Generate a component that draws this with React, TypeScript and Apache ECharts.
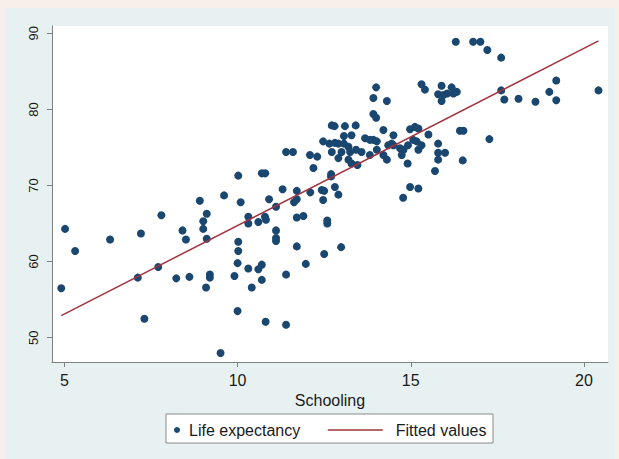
import React, { useEffect, useRef } from "react";
import * as echarts from "echarts";

// Average years of schooling vs. life expectancy, one point per country
const schoolingVsLife: [number, number][] = [
  [4.91, 56.5], [5.02, 64.3], [5.31, 61.4], [6.32, 62.9], [7.12, 57.9], [7.21, 63.7], [7.31, 52.5],
  [7.71, 59.3], [7.8, 66.1], [8.23, 57.8], [8.41, 64.1], [8.51, 62.9], [8.61, 58.0], [8.91, 68.0],
  [9.01, 65.3], [9.01, 64.3], [9.11, 66.3], [9.11, 63.0], [9.09, 56.6], [9.2, 58.3], [9.2, 57.9],
  [9.51, 48.0], [9.61, 68.7], [9.91, 58.1],
  [10.02, 71.3], [10.02, 62.6], [10.02, 61.4], [10.0, 59.8], [10.0, 53.5], [10.09, 67.8], [10.31, 65.9],
  [10.31, 65.0], [10.31, 59.1], [10.41, 56.6], [10.6, 65.2], [10.6, 59.0], [10.7, 59.6], [10.7, 57.6],
  [10.7, 71.6], [10.8, 71.6], [10.79, 65.9], [10.82, 65.5], [10.81, 52.1], [10.91, 68.2],
  [11.11, 67.2], [11.11, 64.1], [11.11, 63.1], [11.11, 62.7], [11.3, 69.5], [11.4, 74.4], [11.6, 74.4],
  [11.4, 58.3], [11.4, 51.7], [11.63, 67.8], [11.71, 69.3], [11.71, 68.2], [11.71, 65.8], [11.71, 62.0],
  [11.9, 66.0], [11.97, 59.7],
  [12.09, 74.0], [12.1, 69.1], [12.19, 72.3], [12.3, 73.8], [12.43, 69.4], [12.5, 69.3], [12.47, 68.1],
  [12.5, 61.0], [12.47, 75.8], [12.59, 65.4], [12.59, 65.0], [12.65, 75.5], [12.7, 71.2], [12.7, 71.5],
  [12.72, 74.4], [12.72, 77.9], [12.8, 77.8], [12.81, 69.8], [12.81, 75.6], [12.91, 75.5], [12.91, 68.8],
  [12.91, 73.6], [12.99, 61.9],
  [13.0, 74.4], [13.07, 76.5], [13.07, 75.5], [13.1, 77.8], [13.2, 75.1], [13.2, 73.4], [13.25, 74.4],
  [13.29, 76.6], [13.29, 72.9], [13.41, 77.9], [13.42, 74.7], [13.46, 72.7], [13.58, 74.4], [13.68, 76.2],
  [13.82, 76.0], [13.82, 74.0], [13.92, 81.5], [13.92, 79.4], [13.92, 76.0],
  [14.0, 78.9], [14.0, 82.9], [14.02, 75.8], [14.02, 74.7], [14.21, 77.3], [14.21, 74.0], [14.31, 73.4],
  [14.31, 81.1], [14.35, 75.3], [14.45, 75.5], [14.5, 76.6], [14.5, 75.3], [14.69, 74.9], [14.79, 74.7],
  [14.74, 74.0], [14.78, 68.4], [14.91, 72.9], [14.92, 75.3], [14.98, 77.4], [14.98, 69.8],
  [15.07, 76.0], [15.12, 77.7], [15.22, 77.5], [15.17, 75.8], [15.22, 74.7], [15.22, 69.6], [15.31, 75.3],
  [15.31, 83.3], [15.41, 82.6], [15.51, 76.7], [15.7, 71.9], [15.79, 75.5], [15.79, 74.3], [15.79, 73.4],
  [15.79, 82.0], [15.89, 83.1], [15.89, 81.1], [15.94, 81.9], [15.99, 74.3],
  [16.05, 82.1], [16.18, 82.9], [16.23, 82.1], [16.33, 82.3], [16.3, 88.9], [16.42, 77.2], [16.52, 77.2],
  [16.5, 73.3], [16.8, 88.9], [17.01, 88.9], [17.21, 87.8], [17.27, 76.1], [17.61, 86.8], [17.61, 82.5],
  [17.7, 81.3], [18.11, 81.4], [18.6, 81.0], [19.0, 82.3], [19.2, 83.8], [19.2, 81.2], [20.42, 82.5],
];

// Endpoints of the linear fit over the observed schooling range
const fittedSchooling = [4.91, 20.42];
const fittedLife = [52.9, 89.0];

const xTicks = [5, 10, 15, 20];
const yTicks = [50, 60, 70, 80, 90];

const NAVY = "#1a476f";
const MAROON = "#a3333f";
const FONT = "'Liberation Sans', Arial, sans-serif";

export default function App() {
  const ref = useRef<HTMLDivElement>(null);

  useEffect(() => {
    if (!ref.current) return;
    const chart = echarts.init(ref.current, null, { renderer: "svg" });

    chart.setOption({
      animation: false,
      backgroundColor: "#f7efea",
      textStyle: { fontFamily: FONT },
      graphic: [
        {
          type: "rect",
          z: -10,
          silent: true,
          shape: { x: 5, y: 8, width: 610, height: 451 },
          style: { fill: "#e8f1f1" },
        },
        {
          type: "rect",
          z: 1,
          silent: true,
          shape: { x: 166, y: 414, width: 327, height: 29 },
          style: { fill: "#ffffff", stroke: "#8a8a8a", lineWidth: 1 },
        },
      ],
      grid: {
        left: 52,
        top: 26,
        width: 556,
        height: 336,
        show: true,
        backgroundColor: "#ffffff",
        borderWidth: 0,
        containLabel: false,
      },
      legend: [
        {
          data: ["Life expectancy"],
          left: 174,
          top: 422,
          padding: 0,
          itemWidth: 6,
          itemHeight: 6,
          icon: "circle",
          selectedMode: false,
          textStyle: { fontSize: 16, color: "#1a1a1a", fontFamily: FONT, padding: [0, 0, 0, 4] },
        },
        {
          data: ["Fitted values"],
          left: 327,
          top: 422,
          padding: 0,
          itemWidth: 55,
          itemHeight: 14,
          selectedMode: false,
          itemStyle: { opacity: 0 },
          lineStyle: { color: MAROON, width: 1.5 },
          textStyle: { fontSize: 16, color: "#1a1a1a", fontFamily: FONT, padding: [0, 0, 0, 8] },
        },
      ],
      xAxis: {
        type: "value",
        min: 4.643,
        max: 20.694,
        name: "Schooling",
        nameLocation: "middle",
        nameGap: 24,
        nameTextStyle: { fontSize: 16, color: "#1a1a1a", fontFamily: FONT },
        axisLine: { show: true, onZero: false, lineStyle: { color: "#808080", width: 1 } },
        axisTick: { show: true, length: 5, customValues: xTicks, lineStyle: { color: "#808080" } },
        axisLabel: { customValues: xTicks, fontSize: 16, color: "#1a1a1a", margin: 10, fontFamily: FONT },
        splitLine: { show: false },
      },
      yAxis: {
        type: "value",
        min: 46.81,
        max: 90.96,
        axisLine: { show: true, onZero: false, lineStyle: { color: "#808080", width: 1 } },
        axisTick: { show: true, length: 5, customValues: yTicks, lineStyle: { color: "#808080" } },
        axisLabel: {
          customValues: yTicks,
          rotate: 90,
          fontSize: 13,
          color: "#1a1a1a",
          margin: 12,
          fontFamily: FONT,
        },
        splitLine: { show: false },
      },
      series: [
        {
          name: "Life expectancy",
          type: "scatter",
          data: schoolingVsLife,
          symbol: "circle",
          symbolSize: 8,
          itemStyle: { color: NAVY, opacity: 1 },
          z: 2,
        },
        {
          name: "Fitted values",
          type: "line",
          data: fittedSchooling.map((x, i) => [x, fittedLife[i]]),
          symbol: "none",
          showSymbol: false,
          lineStyle: { color: MAROON, width: 1.5 },
          itemStyle: { color: MAROON },
          z: 3,
        },
      ],
    });

    return () => chart.dispose();
  }, []);

  return (
    <div
      ref={ref}
      style={{ position: "fixed", left: 0, top: 0, width: 619, height: 459 }}
    />
  );
}
